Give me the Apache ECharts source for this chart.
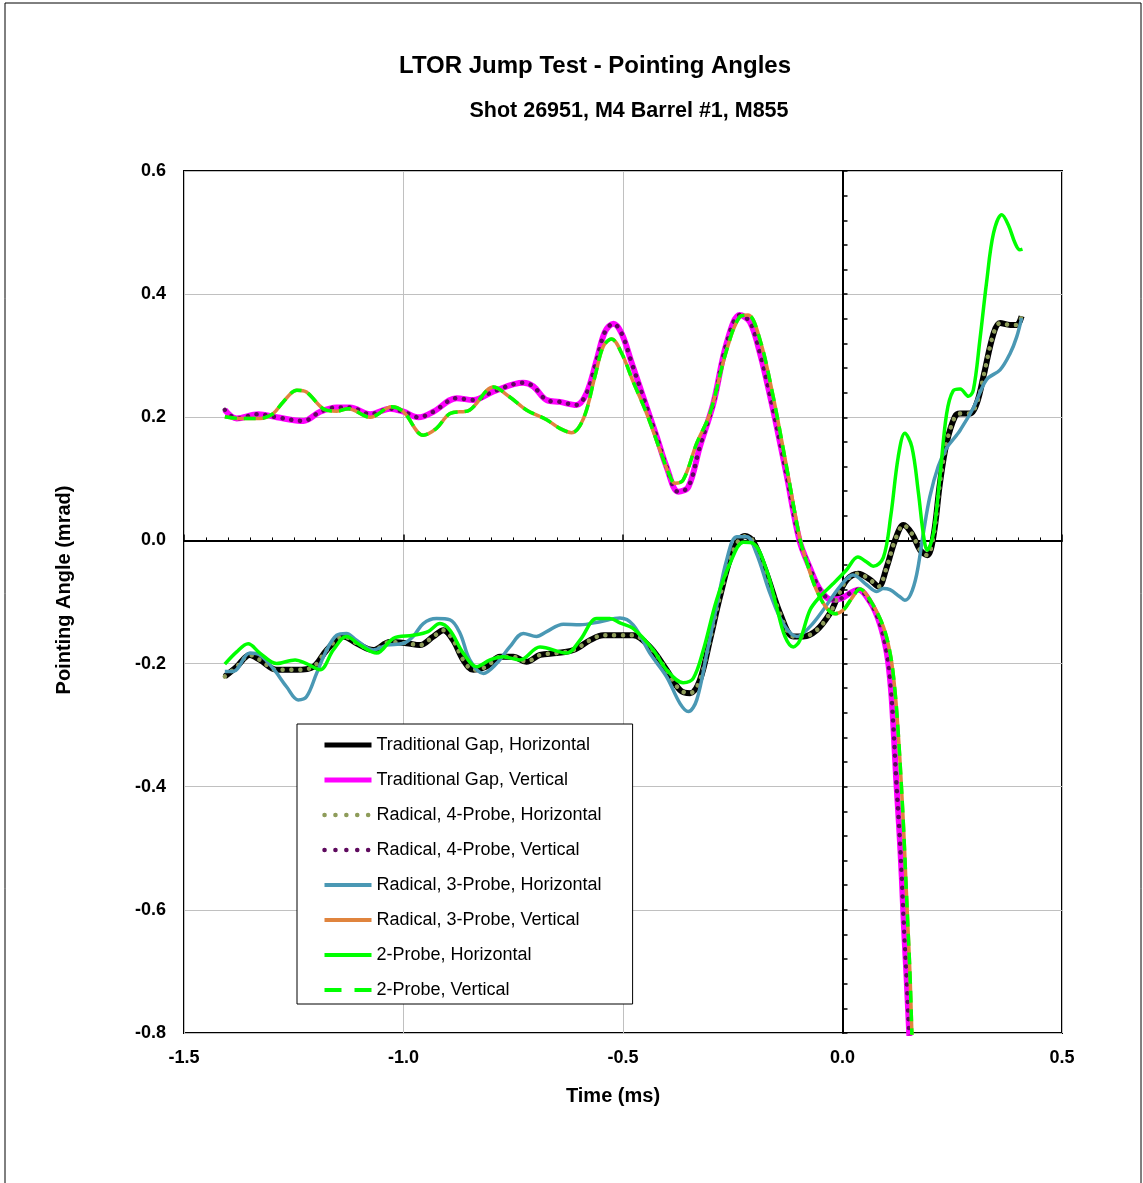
<!DOCTYPE html>
<html><head><meta charset="utf-8">
<script src="https://cdn.jsdelivr.net/npm/echarts@6/dist/echarts.min.js"></script>
<style>html,body{margin:0;padding:0;background:#fff}#c{width:1143px;height:1183px}</style>
</head><body><div id="c"></div><script>
// ---- data (time in ms, angle in mrad) ----
const tradGapVertT = [-1.407,-1.380,-1.331,-1.289,-1.228,-1.190,-1.152,-1.122,-1.076,-1.031,-1.000,-0.966,-0.932,-0.879,-0.841,-0.795,-0.727,-0.704,-0.674,-0.644,-0.606,-0.583,-0.560,-0.541,-0.522,-0.503,-0.480,-0.454,-0.423,-0.401,-0.374,-0.351,-0.325,-0.294,-0.264,-0.234,-0.211,-0.188,-0.158,-0.127,-0.098,-0.074,-0.051,-0.026,-0.002,0.021,0.036,0.063,0.085,0.101,0.110,0.116,0.122,0.129,0.135,0.140,0.146,0.152,0.156];
const tradGapVertV = [0.212,0.198,0.205,0.200,0.194,0.209,0.216,0.216,0.205,0.214,0.209,0.200,0.209,0.231,0.228,0.242,0.256,0.250,0.228,0.225,0.220,0.239,0.293,0.339,0.352,0.336,0.288,0.233,0.168,0.120,0.079,0.087,0.152,0.223,0.320,0.366,0.355,0.304,0.212,0.105,0.000,-0.045,-0.080,-0.096,-0.094,-0.084,-0.080,-0.100,-0.135,-0.183,-0.238,-0.303,-0.384,-0.465,-0.546,-0.627,-0.709,-0.800,-0.850];
const rad4VertT = [-1.407,-1.380,-1.331,-1.289,-1.228,-1.190,-1.152,-1.122,-1.076,-1.031,-1.000,-0.966,-0.932,-0.879,-0.841,-0.795,-0.727,-0.704,-0.674,-0.644,-0.606,-0.583,-0.560,-0.541,-0.522,-0.503,-0.480,-0.454,-0.423,-0.401,-0.374,-0.351,-0.325,-0.294,-0.264,-0.234,-0.211,-0.188,-0.158,-0.127,-0.098,-0.074,-0.051,-0.026,-0.002,0.021,0.036,0.063,0.085,0.101,0.110,0.116,0.122,0.129,0.135,0.140,0.146,0.152,0.156];
const rad4VertV = [0.212,0.198,0.205,0.200,0.194,0.209,0.216,0.216,0.205,0.214,0.209,0.200,0.209,0.231,0.228,0.242,0.256,0.250,0.228,0.225,0.220,0.239,0.293,0.339,0.352,0.336,0.288,0.233,0.168,0.120,0.079,0.087,0.152,0.223,0.320,0.366,0.355,0.304,0.212,0.105,0.000,-0.045,-0.080,-0.096,-0.094,-0.084,-0.080,-0.100,-0.135,-0.183,-0.238,-0.303,-0.384,-0.465,-0.546,-0.627,-0.709,-0.800,-0.850];

const rad3VertT = [-1.407,-1.373,-1.327,-1.297,-1.274,-1.243,-1.221,-1.183,-1.152,-1.126,-1.076,-1.027,-1.000,-0.955,-0.925,-0.894,-0.849,-0.795,-0.758,-0.720,-0.674,-0.644,-0.617,-0.590,-0.564,-0.545,-0.526,-0.503,-0.477,-0.446,-0.416,-0.393,-0.382,-0.363,-0.332,-0.302,-0.264,-0.234,-0.215,-0.188,-0.158,-0.127,-0.097,-0.078,-0.059,-0.036,-0.017,0.002,0.021,0.040,0.063,0.093,0.110,0.120,0.127,0.133,0.139,0.144,0.149,0.154,0.158,0.161];
const rad3VertV = [0.201,0.198,0.198,0.206,0.225,0.244,0.241,0.214,0.210,0.214,0.200,0.217,0.209,0.171,0.182,0.206,0.212,0.249,0.233,0.212,0.196,0.182,0.175,0.198,0.266,0.315,0.327,0.304,0.258,0.206,0.147,0.104,0.093,0.098,0.158,0.206,0.309,0.363,0.366,0.326,0.234,0.118,0.003,-0.043,-0.081,-0.110,-0.119,-0.113,-0.094,-0.079,-0.097,-0.140,-0.189,-0.248,-0.313,-0.384,-0.465,-0.546,-0.627,-0.709,-0.800,-0.850];
const probe2VertT = [-1.407,-1.373,-1.327,-1.297,-1.274,-1.243,-1.221,-1.183,-1.152,-1.126,-1.076,-1.027,-1.000,-0.955,-0.925,-0.894,-0.849,-0.795,-0.758,-0.720,-0.674,-0.644,-0.617,-0.590,-0.564,-0.545,-0.526,-0.503,-0.477,-0.446,-0.416,-0.393,-0.382,-0.363,-0.332,-0.302,-0.264,-0.234,-0.215,-0.188,-0.158,-0.127,-0.097,-0.078,-0.059,-0.036,-0.017,0.002,0.021,0.040,0.063,0.093,0.110,0.120,0.127,0.133,0.139,0.144,0.149,0.154,0.158,0.161];
const probe2VertV = [0.201,0.198,0.198,0.206,0.225,0.244,0.241,0.214,0.210,0.214,0.200,0.217,0.209,0.171,0.182,0.206,0.212,0.249,0.233,0.212,0.196,0.182,0.175,0.198,0.266,0.315,0.327,0.304,0.258,0.206,0.147,0.104,0.093,0.098,0.158,0.206,0.309,0.363,0.366,0.326,0.234,0.118,0.003,-0.043,-0.081,-0.110,-0.119,-0.113,-0.094,-0.079,-0.097,-0.140,-0.189,-0.248,-0.313,-0.384,-0.465,-0.546,-0.627,-0.709,-0.800,-0.850];

const tradGapHorT = [-1.407,-1.380,-1.350,-1.327,-1.289,-1.243,-1.205,-1.175,-1.137,-1.107,-1.069,-1.031,-0.993,-0.963,-0.932,-0.909,-0.887,-0.864,-0.841,-0.811,-0.780,-0.750,-0.720,-0.689,-0.651,-0.613,-0.575,-0.545,-0.507,-0.477,-0.439,-0.401,-0.370,-0.347,-0.325,-0.302,-0.279,-0.249,-0.222,-0.203,-0.173,-0.142,-0.112,-0.089,-0.059,-0.029,-0.013,0.010,0.036,0.063,0.082,0.100,0.120,0.139,0.158,0.177,0.193,0.207,0.222,0.237,0.256,0.268,0.290,0.306,0.321,0.344,0.359,0.382,0.397,0.408];
const tradGapHorV = [-0.221,-0.205,-0.186,-0.194,-0.210,-0.210,-0.205,-0.178,-0.156,-0.167,-0.178,-0.165,-0.167,-0.170,-0.156,-0.146,-0.162,-0.194,-0.210,-0.205,-0.189,-0.189,-0.197,-0.186,-0.183,-0.178,-0.162,-0.154,-0.154,-0.154,-0.173,-0.210,-0.243,-0.248,-0.227,-0.162,-0.091,-0.016,0.007,-0.002,-0.054,-0.119,-0.156,-0.156,-0.146,-0.119,-0.095,-0.064,-0.054,-0.064,-0.075,-0.045,0.001,0.025,0.011,-0.016,-0.024,0.006,0.093,0.158,0.201,0.206,0.206,0.223,0.266,0.336,0.353,0.350,0.350,0.364];
const rad4HorT = [-1.407,-1.380,-1.350,-1.327,-1.289,-1.243,-1.205,-1.175,-1.137,-1.107,-1.069,-1.031,-0.993,-0.963,-0.932,-0.909,-0.887,-0.864,-0.841,-0.811,-0.780,-0.750,-0.720,-0.689,-0.651,-0.613,-0.575,-0.545,-0.507,-0.477,-0.439,-0.401,-0.370,-0.347,-0.325,-0.302,-0.279,-0.249,-0.222,-0.203,-0.173,-0.142,-0.112,-0.089,-0.059,-0.029,-0.013,0.010,0.036,0.063,0.082,0.100,0.120,0.139,0.158,0.177,0.193,0.207,0.222,0.237,0.256,0.268,0.290,0.306,0.321,0.344,0.359,0.382,0.397,0.408];
const rad4HorV = [-0.221,-0.205,-0.186,-0.194,-0.210,-0.210,-0.205,-0.178,-0.156,-0.167,-0.178,-0.165,-0.167,-0.170,-0.156,-0.146,-0.162,-0.194,-0.210,-0.205,-0.189,-0.189,-0.197,-0.186,-0.183,-0.178,-0.162,-0.154,-0.154,-0.154,-0.173,-0.210,-0.243,-0.248,-0.227,-0.162,-0.091,-0.016,0.007,-0.002,-0.054,-0.119,-0.156,-0.156,-0.146,-0.119,-0.095,-0.064,-0.054,-0.064,-0.075,-0.045,0.001,0.025,0.011,-0.016,-0.024,0.006,0.093,0.158,0.201,0.206,0.206,0.223,0.266,0.336,0.353,0.350,0.350,0.364];

const rad3HorT = [-1.407,-1.388,-1.350,-1.327,-1.297,-1.266,-1.240,-1.221,-1.198,-1.175,-1.152,-1.130,-1.107,-1.069,-1.038,-1.000,-0.978,-0.955,-0.925,-0.894,-0.871,-0.849,-0.818,-0.788,-0.758,-0.727,-0.697,-0.674,-0.636,-0.598,-0.552,-0.507,-0.477,-0.439,-0.401,-0.370,-0.351,-0.332,-0.309,-0.287,-0.264,-0.241,-0.218,-0.196,-0.165,-0.135,-0.104,-0.074,-0.044,-0.006,0.024,0.055,0.078,0.093,0.108,0.130,0.142,0.155,0.169,0.184,0.199,0.218,0.237,0.260,0.268,0.298,0.328,0.359,0.382,0.397,0.408];
const rad3HorV = [-0.213,-0.213,-0.183,-0.186,-0.208,-0.238,-0.259,-0.254,-0.216,-0.178,-0.154,-0.151,-0.162,-0.178,-0.170,-0.167,-0.156,-0.135,-0.127,-0.129,-0.151,-0.194,-0.216,-0.200,-0.173,-0.151,-0.156,-0.148,-0.136,-0.137,-0.132,-0.126,-0.137,-0.183,-0.221,-0.265,-0.278,-0.259,-0.183,-0.108,-0.032,0.006,0.006,-0.021,-0.086,-0.135,-0.156,-0.140,-0.113,-0.075,-0.056,-0.072,-0.083,-0.078,-0.080,-0.091,-0.097,-0.088,-0.055,0.011,0.071,0.120,0.150,0.171,0.179,0.215,0.261,0.277,0.304,0.331,0.361];

const probe2HorT = [-1.407,-1.380,-1.354,-1.327,-1.289,-1.247,-1.221,-1.190,-1.160,-1.130,-1.099,-1.061,-1.023,-0.978,-0.944,-0.917,-0.894,-0.864,-0.833,-0.803,-0.773,-0.735,-0.689,-0.628,-0.598,-0.560,-0.530,-0.507,-0.477,-0.431,-0.401,-0.363,-0.340,-0.317,-0.287,-0.256,-0.226,-0.203,-0.173,-0.150,-0.131,-0.112,-0.097,-0.074,-0.051,-0.021,0.009,0.035,0.055,0.070,0.093,0.110,0.127,0.142,0.158,0.173,0.184,0.193,0.207,0.222,0.237,0.252,0.268,0.287,0.298,0.313,0.328,0.344,0.363,0.378,0.393,0.404,0.410];
const probe2HorV = [-0.201,-0.181,-0.168,-0.183,-0.200,-0.194,-0.200,-0.210,-0.178,-0.156,-0.170,-0.183,-0.159,-0.154,-0.148,-0.135,-0.146,-0.183,-0.205,-0.194,-0.189,-0.194,-0.173,-0.183,-0.162,-0.127,-0.127,-0.134,-0.143,-0.178,-0.210,-0.231,-0.224,-0.178,-0.097,-0.037,-0.003,-0.005,-0.048,-0.108,-0.156,-0.173,-0.162,-0.113,-0.091,-0.070,-0.048,-0.027,-0.035,-0.042,-0.028,0.040,0.136,0.174,0.152,0.077,0.011,-0.016,0.011,0.104,0.205,0.243,0.246,0.234,0.244,0.326,0.418,0.499,0.529,0.512,0.483,0.472,0.473];

const seriesNames = ['Traditional Gap, Horizontal','Traditional Gap, Vertical','Radical, 4-Probe, Horizontal','Radical, 4-Probe, Vertical','Radical, 3-Probe, Horizontal','Radical, 3-Probe, Vertical','2-Probe, Horizontal','2-Probe, Vertical'];
const xTicks = {min: -1.5, max: 0.5, step: 0.5};
const yTicks = {min: -0.8, max: 0.6, step: 0.2};

// ---- chart ----
const FONT = '"Liberation Sans", Arial, sans-serif';
const zip = (t, v) => t.map((x, i) => [x, v[i]]);
const dataSets = [
  zip(tradGapHorT, tradGapHorV), zip(tradGapVertT, tradGapVertV),
  zip(rad4HorT, rad4HorV), zip(rad4VertT, rad4VertV),
  zip(rad3HorT, rad3HorV), zip(rad3VertT, rad3VertV),
  zip(probe2HorT, probe2HorV), zip(probe2VertT, probe2VertV)
];
const styles = [
  {color: '#000000', width: 6, type: 'solid', legendType: 'solid', legendWidth: 5},
  {color: '#FF00FF', width: 6, type: 'solid', legendType: 'solid', legendWidth: 5},
  {color: '#8E9C5A', width: 4.5, type: [0.1, 8.7], cap: 'round', legendType: [0.1, 10.8], legendWidth: 4.5},
  {color: '#5E0A5E', width: 4.5, type: [0.1, 8.7], cap: 'round', legendType: [0.1, 10.8], legendWidth: 4.5},
  {color: '#4A98B4', width: 3.5, type: 'solid', legendType: 'solid', legendWidth: 4},
  {color: '#E0843E', width: 3.5, type: 'solid', legendType: 'solid', legendWidth: 4},
  {color: '#00FF00', width: 3.5, type: 'solid', legendType: 'solid', legendWidth: 4},
  {color: '#00FF00', width: 3.5, type: [12, 7], legendType: [17, 13], legendWidth: 4}
];

const chart = echarts.init(document.getElementById('c'), null, {renderer: 'canvas'});
const axisLabelStyle = {fontSize: 18, fontWeight: 'bold', color: '#000', fontFamily: FONT, formatter: v => v.toFixed(1)};

chart.setOption({
  animation: false,
  backgroundColor: '#fff',
  grid: {left: 184, right: 81, top: 171, bottom: 150, show: true, borderColor: '#000', borderWidth: 2, containLabel: false},
  xAxis: [
    {type: 'value', min: xTicks.min, max: xTicks.max, interval: xTicks.step, position: 'bottom',
     axisLine: {show: false, onZero: false}, axisTick: {show: false},
     splitLine: {show: true, lineStyle: {color: '#C0C0C0', width: 1}},
     axisLabel: Object.assign({margin: 16}, axisLabelStyle)},
    {type: 'value', min: xTicks.min, max: xTicks.max, interval: xTicks.step, position: 'top',
     axisLine: {show: true, onZero: true, onZeroAxisIndex: 0, lineStyle: {color: '#000', width: 2}},
     axisTick: {show: true, inside: false, length: 6, lineStyle: {color: '#000', width: 1.5}},
     minorTick: {show: true, splitNumber: 10, length: 3, lineStyle: {color: '#000', width: 1}},
     axisLabel: {show: false}, splitLine: {show: false}}
  ],
  yAxis: [
    {type: 'value', min: yTicks.min, max: yTicks.max, interval: yTicks.step, position: 'left',
     axisLine: {show: false, onZero: false}, axisTick: {show: false},
     splitLine: {show: true, lineStyle: {color: '#C0C0C0', width: 1}},
     axisLabel: Object.assign({margin: 18}, axisLabelStyle)},
    {type: 'value', min: yTicks.min, max: yTicks.max, interval: yTicks.step, position: 'right',
     axisLine: {show: true, onZero: true, onZeroAxisIndex: 0, lineStyle: {color: '#000', width: 2}},
     axisTick: {show: true, inside: false, length: 5, lineStyle: {color: '#000', width: 1.5}},
     minorTick: {show: true, splitNumber: 5, length: 5, lineStyle: {color: '#000', width: 1.5}},
     axisLabel: {show: false}, splitLine: {show: false}}
  ],
  legend: {
    orient: 'vertical', left: 297, top: 724,
    padding: [12, 31, 5, 25], itemGap: 17, itemWidth: 47, itemHeight: 14,
    backgroundColor: '#fff', borderColor: '#000', borderWidth: 1, borderRadius: 0,
    textStyle: {fontSize: 18, color: '#000', fontFamily: FONT, lineHeight: 17},
    itemStyle: {opacity: 0},
    selectedMode: false,
    data: seriesNames.map((n, i) => ({name: n, lineStyle: {width: styles[i].legendWidth, type: styles[i].legendType}}))
  },
  graphic: [
    {type: 'rect', silent: true, shape: {x: 5, y: 3, width: 1136, height: 1200}, style: {fill: 'none', stroke: '#000', lineWidth: 1}},
    {type: 'text', silent: true, x: 595, y: 66, style: {text: 'LTOR Jump Test - Pointing Angles', font: 'bold 24px ' + FONT, fill: '#000', align: 'center', verticalAlign: 'middle'}},
    {type: 'text', silent: true, x: 629, y: 111, style: {text: 'Shot 26951, M4 Barrel #1, M855', font: 'bold 21.5px ' + FONT, fill: '#000', align: 'center', verticalAlign: 'middle'}},
    {type: 'text', silent: true, x: 613, y: 1096, style: {text: 'Time (ms)', font: 'bold 20px ' + FONT, fill: '#000', align: 'center', verticalAlign: 'middle'}},
    {type: 'text', silent: true, x: 64, y: 590, rotation: Math.PI / 2, style: {text: 'Pointing Angle (mrad)', font: 'bold 20px ' + FONT, fill: '#000', align: 'center', verticalAlign: 'middle'}}
  ],
  series: seriesNames.map((n, i) => ({
    name: n, type: 'line', xAxisIndex: 0, yAxisIndex: 0,
    data: dataSets[i], smooth: 0.35, symbol: 'none', showSymbol: false,
    clip: true, z: 2 + i,
    lineStyle: {color: styles[i].color, width: styles[i].width, type: styles[i].type, cap: styles[i].cap || 'butt', join: 'round'},
    itemStyle: {color: styles[i].color}
  }))
});
</script></body></html>
